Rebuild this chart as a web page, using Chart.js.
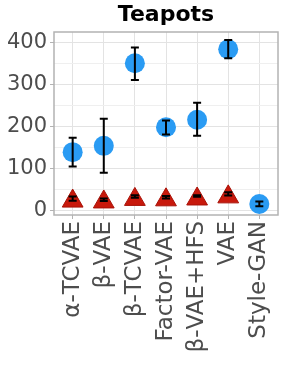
<!DOCTYPE html>
<html>
<head>
<meta charset="utf-8">
<script src="https://cdn.jsdelivr.net/npm/chart.js@4.4.0/dist/chart.umd.min.js"></script>
<style>
  html, body { margin: 0; padding: 0; background: #fff; }
  #wrap { width: 291px; height: 376px; }
</style>
</head>
<body>
<div id="wrap"><canvas id="chart" width="291" height="376"></canvas></div>
<script>
const title = "Teapots";
const methods = ["α-TCVAE", "β-VAE", "β-TCVAE", "Factor-VAE", "β-VAE+HFS", "VAE", "Style-GAN"];

// blue circles (all methods)
const blueMean = [139, 154, 350, 198, 216, 383, 16];
const blueLow = [105, 90, 310, 181, 178, 362, 11];
const blueHigh = [173, 218, 387, 214, 256, 405, 22];

// red triangles (no Style-GAN)
const redMean = [23, 21, 27, 26, 28, 33];
const redLow = [24, 23, 31, 29, 33, 36];
const redHigh = [34, 29, 37, 35, 37, 44];

const yTicks = [0, 100, 200, 300, 400];

const font = "DejaVu Sans";

function toPoints(arr) {
  return arr.map((v, i) => ({ x: i, y: v }));
}

// error bars + panel border + title
const extras = {
  id: "extras",
  afterDatasetsDraw(chart) {
    const ctx = chart.ctx;
    const xs = chart.scales.x;
    const ys = chart.scales.y;
    const bars = [[blueLow, blueHigh], [redLow, redHigh]];
    ctx.save();
    ctx.strokeStyle = "#000";
    ctx.lineWidth = 2;
    bars.forEach(([lo, hi]) => {
      lo.forEach((l, i) => {
        const x = xs.getPixelForValue(i);
        const y1 = ys.getPixelForValue(l);
        const y2 = ys.getPixelForValue(hi[i]);
        ctx.beginPath();
        ctx.moveTo(x, y1);
        ctx.lineTo(x, y2);
        ctx.moveTo(x - 4, y1);
        ctx.lineTo(x + 4, y1);
        ctx.moveTo(x - 4, y2);
        ctx.lineTo(x + 4, y2);
        ctx.stroke();
      });
    });
    // panel border
    const a = chart.chartArea;
    ctx.strokeStyle = "#b3b3b3";
    ctx.lineWidth = 1.5;
    ctx.strokeRect(a.left, a.top, a.right - a.left, a.bottom - a.top);
    // title centred over panel
    ctx.fillStyle = "#000";
    ctx.font = "bold 22px '" + font + "'";
    ctx.textAlign = "center";
    ctx.textBaseline = "alphabetic";
    ctx.fillText(title, (a.left + a.right) / 2, 21);
    ctx.restore();
  }
};

new Chart(document.getElementById("chart"), {
  type: "scatter",
  data: {
    datasets: [
      {
        data: toPoints(blueMean),
        pointStyle: "circle",
        pointRadius: 10,
        pointHoverRadius: 10,
        backgroundColor: "#2a9bf3",
        borderWidth: 0
      },
      {
        data: toPoints(redMean),
        pointStyle: "triangle",
        pointRadius: 12,
        pointHoverRadius: 12,
        backgroundColor: "#c8190c",
        borderColor: "#a81208",
        borderWidth: 1
      }
    ]
  },
  options: {
    responsive: false,
    animation: false,
    layout: { padding: { top: 32, right: 4, left: 0, bottom: 0 } },
    plugins: {
      legend: { display: false },
      tooltip: { enabled: false }
    },
    scales: {
      x: {
        type: "linear",
        min: -0.6,
        max: 6.6,
        afterFit(scale) { scale.height = 161; },
        ticks: {
          stepSize: 1,
          includeBounds: false,
          autoSkip: false,
          minRotation: 90,
          maxRotation: 90,
          padding: 2,
          color: "#4d4d4d",
          font: { family: font, size: 23 },
          callback: (v) => methods[v] !== undefined ? methods[v] : ""
        },
        grid: {
          color: "#e3e3e3",
          lineWidth: 1,
          tickColor: "#b3b3b3",
          tickLength: 4
        },
        border: { display: false }
      },
      y: {
        min: -10,
        max: 424,
        afterFit(scale) { scale.width = 54; },
        ticks: {
          stepSize: 50,
          includeBounds: false,
          autoSkip: false,
          padding: 3,
          color: "#4d4d4d",
          font: { family: font, size: 21 },
          callback: (v) => yTicks.includes(v) ? v : ""
        },
        grid: {
          color: (c) => yTicks.includes(c.tick.value) ? "#e3e3e3" : "#efefef",
          lineWidth: 1,
          tickColor: (c) => yTicks.includes(c.tick.value) ? "#b3b3b3" : "rgba(0,0,0,0)",
          tickLength: 4
        },
        border: { display: false }
      }
    }
  },
  plugins: [extras]
});
</script>
</body>
</html>
